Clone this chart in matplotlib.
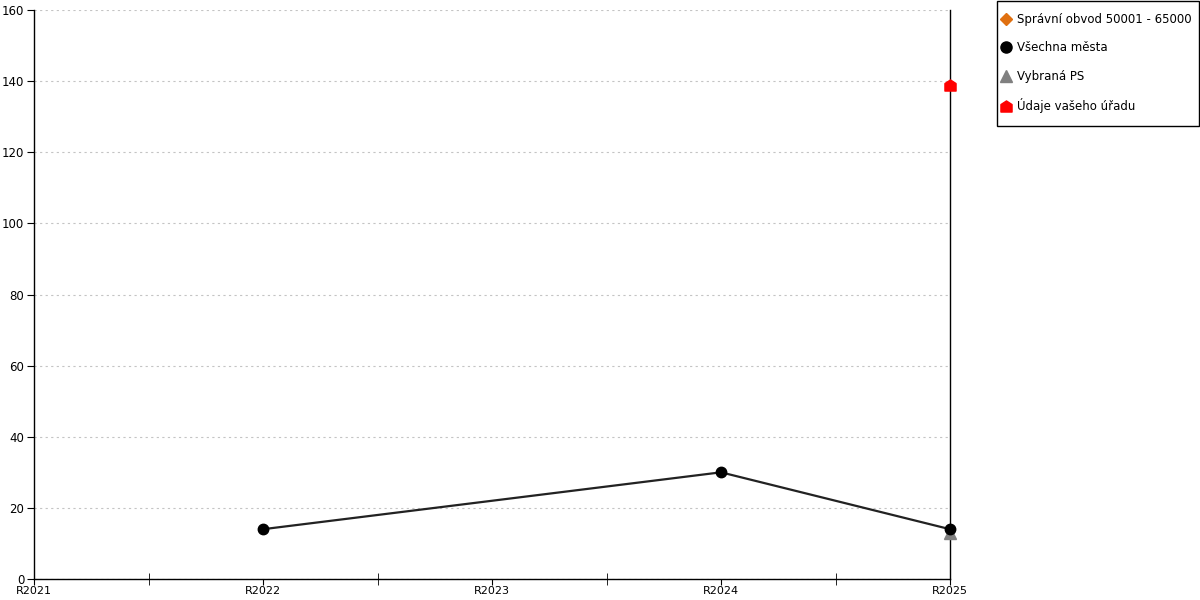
import numpy as np
import matplotlib.pyplot as plt
from matplotlib.path import Path
from matplotlib.lines import Line2D
from matplotlib.patches import Rectangle

categories = ["R2021", "R2022", "R2023", "R2024", "R2025"]

# Všechna města (R2023 missing, line still joins the points)
vsechna_x = ["R2022", "R2024", "R2025"]
vsechna_y = [14, 30, 14]

vybrana_x = ["R2025"]
vybrana_y = [13]

urad_x = ["R2025"]
urad_y = [139]

y_ticks = [0, 20, 40, 60, 80, 100, 120, 140, 160]

house = Path([(-1, -1), (1, -1), (1, 0.35), (0, 1), (-1, 0.35), (-1, -1)],
             [Path.MOVETO, Path.LINETO, Path.LINETO, Path.LINETO, Path.LINETO, Path.CLOSEPOLY])

plt.rcParams["font.family"] = ["DejaVu Sans"]

fig = plt.figure(figsize=(12, 6), dpi=100)
ax = fig.add_axes([34 / 1200, 21 / 600, 916 / 1200, 569 / 600])

pos = {c: i for i, c in enumerate(categories)}

ax.plot([pos[c] for c in vsechna_x], vsechna_y, color="#222222", lw=1.6, zorder=3,
        clip_on=False)
ax.plot([pos[c] for c in vybrana_x], vybrana_y, ls="none", marker="^", ms=9,
        color="#808080", zorder=4, clip_on=False)
ax.plot([pos[c] for c in vsechna_x], vsechna_y, ls="none", marker="o", ms=7.5,
        color="black", zorder=5, clip_on=False)
ax.plot([pos[c] for c in urad_x], urad_y, ls="none", marker=house, ms=8,
        color="#ff0000", zorder=5, clip_on=False)

ax.set_xlim(0, len(categories) - 1)
ax.set_ylim(0, 160)
ax.set_xticks(range(len(categories)))
ax.set_xticklabels(categories)
ax.set_xticks(np.arange(0.5, len(categories) - 1, 1.0), minor=True)
ax.set_yticks(y_ticks)
ax.yaxis.grid(True, color="#c4c4c4", ls=(0, (2, 3)), lw=0.8)
ax.set_axisbelow(True)

ax.spines["top"].set_visible(False)
for s in ["left", "bottom", "right"]:
    ax.spines[s].set_linewidth(1.0)
    ax.spines[s].set_color("black")
    ax.spines[s].set_zorder(2)

ax.tick_params(axis="y", direction="out", length=5, labelsize=8.5, pad=2)
ax.tick_params(axis="x", which="minor", direction="inout", length=8)
ax.tick_params(axis="x", which="major", direction="out", length=4, labelsize=8, pad=1)

handles = [
    Line2D([], [], ls="none", marker="D", ms=6, color="#e07010"),
    Line2D([], [], ls="none", marker="o", ms=8, color="black"),
    Line2D([], [], ls="none", marker="^", ms=8, color="#808080"),
    Line2D([], [], ls="none", marker=house, ms=8, color="#ff0000"),
]
labels = ["Správní obvod 50001 - 65000", "Všechna města", "Vybraná PS", "Údaje vašeho úřadu"]
leg = fig.legend(handles, labels, loc="upper left",
                 bbox_to_anchor=(1001 / 1200, 1 - 13 / 600),
                 fontsize=8.5, frameon=False,
                 handlelength=0.8, handletextpad=0.55, labelspacing=1.3,
                 borderpad=0, borderaxespad=0)
fig.patches.append(Rectangle((997 / 1200, 1 - 126 / 600), 202 / 1200, 125 / 600,
                             transform=fig.transFigure, fill=False,
                             edgecolor="black", lw=1.0))

fig.savefig("out.png", dpi=100)
